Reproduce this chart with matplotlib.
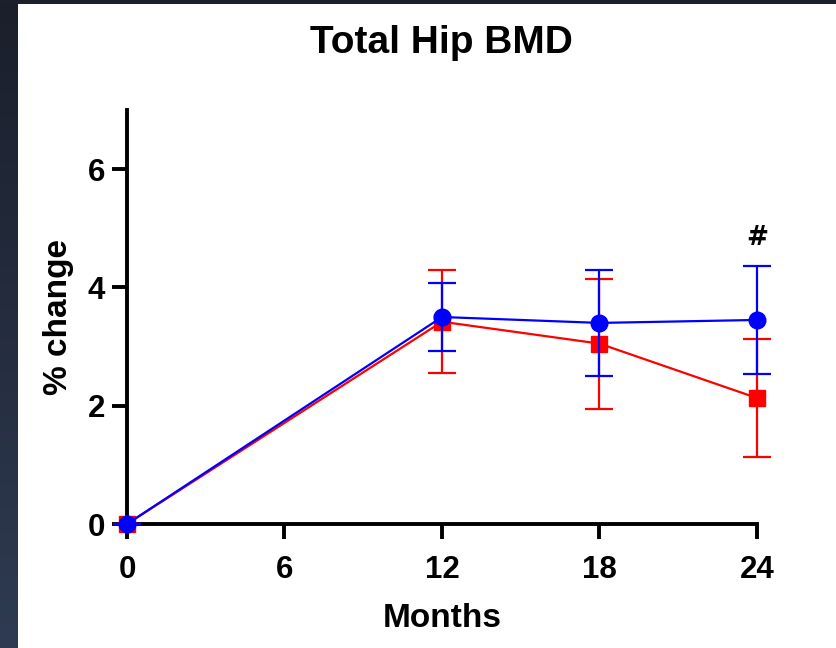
import numpy as np
import matplotlib
matplotlib.use("Agg")
import matplotlib.pyplot as plt

months = [0, 12, 18, 24]
red_mean = [0, 3.42, 3.05, 2.13]
red_err = [0, 0.87, 1.10, 1.00]
blue_mean = [0, 3.50, 3.40, 3.45]
blue_err = [0, 0.58, 0.89, 0.91]

plt.rcParams['font.family'] = ['Liberation Sans', 'DejaVu Sans']
plt.rcParams['font.weight'] = 'bold'

fig = plt.figure(figsize=(8.37, 6.48), dpi=100)
fig.patch.set_facecolor('white')

# dark frame on the left and top (screenshot border)
bg = fig.add_axes([0, 0, 18 / 837, 1])
grad = np.linspace(0, 1, 256).reshape(-1, 1)
cmap = matplotlib.colors.LinearSegmentedColormap.from_list('bg', ['#1a1f2b', '#2f3b52'])
bg.imshow(grad, aspect='auto', cmap=cmap, extent=[0, 1, 0, 1], origin='upper')
bg.axis('off')
top = fig.add_axes([0, 1 - 4 / 648, 1, 4 / 648])
top.set_facecolor('#1b202c')
top.set_xticks([])
top.set_yticks([])
for s in top.spines.values():
    s.set_visible(False)

ax = fig.add_axes([127 / 837, 1 - 524 / 648, 630 / 837, 414 / 648])
ax.errorbar(months, red_mean, yerr=red_err, color='#ff0000', marker='s', markersize=12,
            linewidth=1.6, elinewidth=1.6, capsize=10, capthick=1.6, clip_on=False, zorder=3)
ax.errorbar(months, blue_mean, yerr=blue_err, color='#0000ff', marker='o', markersize=12,
            linewidth=1.6, elinewidth=1.6, capsize=10, capthick=1.6, clip_on=False, zorder=4)

ax.text(24, 4.83, '#', ha='center', va='center', fontsize=19, fontweight='bold',
        family=['DejaVu Sans'])

ax.set_xlim(0, 24)
ax.set_ylim(0, 7)
ax.set_xticks([0, 6, 12, 18, 24])
ax.set_yticks([0, 2, 4, 6])
ax.spines['top'].set_visible(False)
ax.spines['right'].set_visible(False)
for s in ['left', 'bottom']:
    ax.spines[s].set_linewidth(2.8)
ax.tick_params(width=2.8, length=11, labelsize=22.5)
ax.tick_params(axis='x', pad=11)
ax.tick_params(axis='y', pad=5)
for lbl in ax.get_xticklabels() + ax.get_yticklabels():
    lbl.set_fontweight('bold')

ax.set_xlabel('Months', fontsize=24, fontweight='bold', labelpad=13)
ax.set_ylabel('% change', fontsize=24, fontweight='bold', labelpad=10)
fig.text((127 + 757) / 2 / 837 - 0.001, 1 - 43 / 648, 'Total Hip BMD', ha='center', va='center',
         fontsize=28, fontweight='bold')

fig.savefig('out.png', dpi=100)
